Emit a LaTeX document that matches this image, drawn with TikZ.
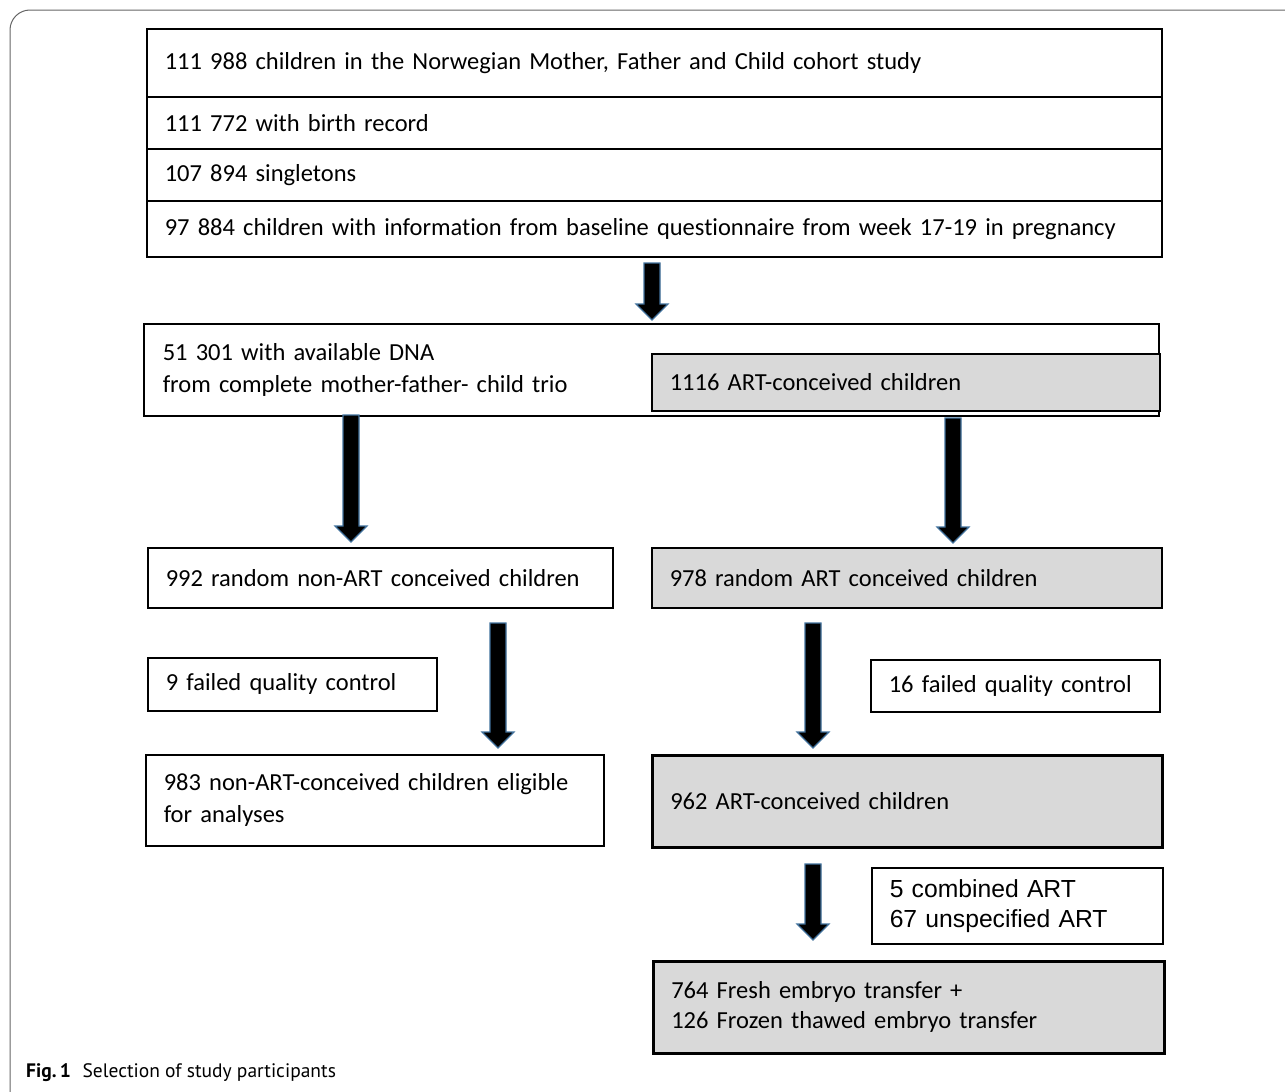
\documentclass[tikz,border=0pt]{standalone}
\usepackage{fontspec}
\setmainfont{Carlito}[Ligatures=NoCommon]
\newfontfamily\arialfont{Liberation Sans}
\newfontfamily\capfont{PT Sans}
\usetikzlibrary{calc}
\definecolor{boxgray}{HTML}{D9D9D9}
\definecolor{arrowedge}{HTML}{41719C}
\tikzstyle{chart}=[x=1pt, y=-1pt, font=\fontsize{24.5}{32}\selectfont]
\tikzstyle{box}=[draw, line width=1.5pt, anchor=north west, align=left, inner xsep=18pt, inner ysep=0pt]
\tikzstyle{artbox}=[box, fill=boxgray]
\tikzstyle{artthick}=[artbox, line width=2.6pt]
\tikzstyle{fatarrow}=[fill=black, draw=arrowedge, line width=1.2pt, line join=miter]
\newcommand{\fatarrow}[2]{%
  \filldraw[fatarrow] ($(#1)+(-8,0)$) -- ($(#2)+(-8,-16)$) -- ($(#2)+(-16,-16)$) -- (#2)
    -- ($(#2)+(16,-16)$) -- ($(#2)+(8,-16)$) -- ($(#1)+(8,0)$) -- cycle;}

\begin{document}
\begin{tikzpicture}[chart]
\useasboundingbox (0,0) rectangle (1285,1092);
\draw[black!60, line width=1pt, rounded corners=20pt] (10,1092) -- (10,10) -- (1285,10);

% cohort selection
\node[box, text width=979pt, minimum height=68pt] (cohort) at (146,28) {111 988 children in the Norwegian Mother, Father and Child cohort study};
\node[box, text width=979pt, minimum height=52pt] (birth) at (146,96) {111 772 with birth record};
\node[box, text width=979pt, minimum height=52pt] (single) at (146,148) {107 894 singletons};
\node[box, text width=979pt, minimum height=56pt] (baseline) at (146,200) {97 884 children with information from baseline questionnaire from week 17-19 in pregnancy};

\node[box, text width=977pt, minimum height=92pt, inner xsep=19pt] (dna) at (143,323) {51 301 with available DNA\\from complete mother-father- child trio};
\node[artbox, text width=472pt, minimum height=57pt] (art) at (651,353) {1116 ART-conceived children};

% random samples
\node[box, text width=429pt, minimum height=60pt] (randnon) at (147,547) {992 random non-ART conceived children};
\node[artbox, text width=474pt, minimum height=60pt] (randart) at (651,547) {978 random ART conceived children};

\node[box, text width=253pt, minimum height=53pt] (qcnon) at (147,657) {9 failed quality control};
\node[box, text width=253pt, minimum height=52pt] (qcart) at (870,659) {16 failed quality control};

\node[box, text width=422pt, minimum height=91pt] (eligible) at (145,754) {983 non-ART-conceived children eligible\\for analyses};
\node[artthick, text width=474pt, minimum height=92pt] (artfinal) at (651,754) {962 ART-conceived children};

\node[box, text width=255pt, minimum height=76pt, font=\arialfont\fontsize{24.7}{30}\selectfont] (excluded) at (871,867) {5 combined ART\\67 unspecified ART};
\node[artthick, text width=475pt, minimum height=92pt, font=\fontsize{24.5}{30}\selectfont] (transfer) at (652,960) {764 Fresh embryo transfer +\\126 Frozen thawed embryo transfer};

% block arrows
\coordinate (a1s) at (652,263); \coordinate (a1e) at (652,320);
\coordinate (a2s) at (351,415); \coordinate (a2e) at (351,542);
\coordinate (a3s) at (953,418); \coordinate (a3e) at (953,543);
\coordinate (a4s) at (498,623); \coordinate (a4e) at (498,748);
\coordinate (a5s) at (813,623); \coordinate (a5e) at (813,748);
\coordinate (a6s) at (813,864); \coordinate (a6e) at (813,940);
\fatarrow{a1s}{a1e}
\fatarrow{a2s}{a2e}
\fatarrow{a3s}{a3e}
\fatarrow{a4s}{a4e}
\fatarrow{a5s}{a5e}
\fatarrow{a6s}{a6e}

\node[anchor=west, inner sep=0pt, font=\capfont\fontsize{19.5}{22}\selectfont] (caption) at (26,1073) {\textbf{Fig.\,1}\hspace{0.6em}Selection of study participants};
\end{tikzpicture}
\end{document}
